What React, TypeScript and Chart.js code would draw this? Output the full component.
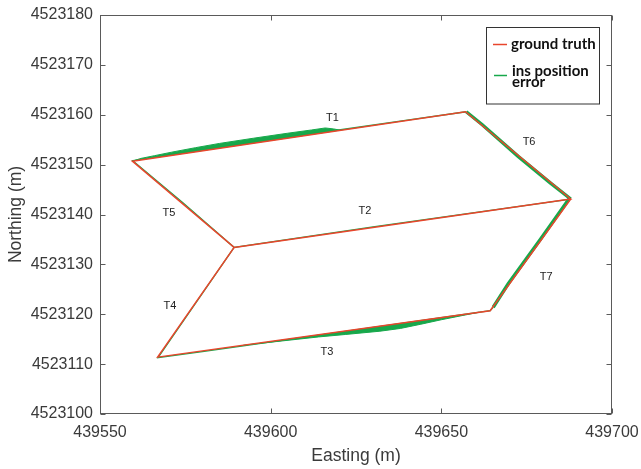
import React, { useEffect, useRef } from 'react';
import { Chart, registerables } from 'chart.js';

Chart.register(...registerables);

// ---- data ----
const xTicks = [439550, 439600, 439650, 439700];
const yTicks = [4523100, 4523110, 4523120, 4523130, 4523140, 4523150, 4523160, 4523170, 4523180];

// ground truth trajectory (vertices)
const truthEasting = [439687.9, 439664.3, 439566.9, 439589.3, 439559.5, 439657.1, 439687.9, 439589.3];
const truthNorthing = [4523143.1, 4523120.7, 4523111.4, 4523133.4, 4523150.7, 4523160.6, 4523143.1, 4523133.4];

// INS estimated trajectory
const insEasting = [
  439687.6, 439679.1, 439669.6, 439665.2, 439664.3, 439592.0, 439580.0, 439567.0,
  439589.3, 439574.2, 439559.6, 439620.5, 439640.0, 439657.3, 439662.0, 439672.5,
  439682.0, 439687.9, 439630.0, 439589.3,
];
const insNorthing = [
  4523143.3, 4523135.1, 4523126.1, 4523121.4, 4523120.7, 4523113.65, 4523112.5, 4523111.3,
  4523133.4, 4523142.4, 4523150.8, 4523156.99, 4523158.91, 4523160.6, 4523158.0, 4523151.65,
  4523146.3, 4523143.1, 4523137.5, 4523133.4,
];

// INS error band along T1 (upper edge) and its base on the ground truth
const t1BandEasting = [439559.5, 439562, 439566, 439571, 439578, 439585, 439595, 439605, 439612, 439616, 439618.5, 439620.5];
const t1BandNorthing = [4523150.7, 4523151.25, 4523151.8, 4523152.5, 4523153.4, 4523154.25, 4523155.3, 4523156.3, 4523156.95, 4523157.35, 4523157.15, 4523156.89];
const t1BaseEasting = [439559.5, 439620.5];
const t1BaseNorthing = [4523150.7, 4523156.89];

// INS error band along T3 (lower edge) and its base on the ground truth
const t3BandEasting = [439592, 439600, 439608, 439614, 439622, 439632, 439638, 439644, 439650, 439656, 439661];
const t3BandNorthing = [4523113.8, 4523114.4, 4523115.0, 4523115.45, 4523115.95, 4523116.6, 4523117.15, 4523118.0, 4523118.9, 4523119.72, 4523120.39];
const t3BaseEasting = [439592, 439661];
const t3BaseNorthing = [4523113.8, 4523120.39];

// segment labels
const segLabels = ['T1', 'T2', 'T3', 'T4', 'T5', 'T6', 'T7'];
const segLabelEasting = [439618.1, 439627.6, 439616.5, 439570.5, 439570.2, 439675.7, 439680.7];
const segLabelNorthing = [4523159.3, 4523140.7, 4523112.5, 4523121.7, 4523140.4, 4523154.6, 4523127.5];

const seriesNames = ['ground truth', 'ins position\nerror'];

const RED = '#e8452c';
const GREEN = '#17a84b';

const pts = (xs: number[], ys: number[]) => xs.map((x, i) => ({ x, y: ys[i] }));

const overlayPlugin = {
  id: 'overlay',
  afterDraw(chart: any) {
    const { ctx, chartArea: a, scales } = chart;
    const xs = scales.x;
    const ys = scales.y;
    ctx.save();
    // legend box
    const lx = 486.5, ly = 27.5, lw = 113, lh = 76.5;
    ctx.fillStyle = '#ffffff';
    ctx.fillRect(lx, ly, lw, lh);
    ctx.strokeStyle = '#333333';
    ctx.lineWidth = 1;
    ctx.strokeRect(lx, ly, lw, lh);
    ctx.lineWidth = 1.5;
    ctx.strokeStyle = RED;
    ctx.beginPath();
    ctx.moveTo(493, 44.5);
    ctx.lineTo(507, 44.5);
    ctx.stroke();
    ctx.strokeStyle = GREEN;
    ctx.beginPath();
    ctx.moveTo(494, 75.5);
    ctx.lineTo(507, 75.5);
    ctx.stroke();
    ctx.fillStyle = '#111111';
    ctx.font = 'bold 15px Lato';
    ctx.textAlign = 'left';
    ctx.textBaseline = 'middle';
    ctx.fillText(seriesNames[0], 511, 44);
    const lines = seriesNames[1].split('\n');
    lines.forEach((t, i) => ctx.fillText(t, 512, 71 + i * 11.5));

    // box and inward ticks
    ctx.strokeStyle = '#5a5a5a';
    ctx.lineWidth = 1;
    const L = Math.round(a.left) + 0.5;
    const R = Math.round(a.right) - 0.5;
    const T = Math.round(a.top) + 0.5;
    const B = Math.round(a.bottom) - 0.5;
    ctx.strokeRect(L, T, R - L, B - T);
    ctx.beginPath();
    xTicks.forEach((v) => {
      const px = Math.round(xs.getPixelForValue(v)) + 0.5;
      ctx.moveTo(px, B);
      ctx.lineTo(px, B - 5);
      ctx.moveTo(px, T);
      ctx.lineTo(px, T + 5);
    });
    yTicks.forEach((v) => {
      const py = Math.round(ys.getPixelForValue(v)) + 0.5;
      ctx.moveTo(L, py);
      ctx.lineTo(L + 5, py);
      ctx.moveTo(R, py);
      ctx.lineTo(R - 5, py);
    });
    ctx.stroke();

    // segment labels
    ctx.fillStyle = '#222222';
    ctx.font = '11px "Liberation Sans"';
    ctx.textAlign = 'center';
    ctx.textBaseline = 'middle';
    segLabels.forEach((t, i) => {
      ctx.fillText(t, xs.getPixelForValue(segLabelEasting[i]), ys.getPixelForValue(segLabelNorthing[i]));
    });
    ctx.restore();
  },
};

export default function App() {
  const ref = useRef<HTMLCanvasElement | null>(null);
  useEffect(() => {
    if (!ref.current) return;
    const thick = new Set([13, 14, 15, 16, 0, 1, 2]);
    const chart = new Chart(ref.current, {
      type: 'line',
      data: {
        datasets: [
          {
            label: seriesNames[0],
            data: pts(truthEasting, truthNorthing),
            borderColor: RED,
            borderWidth: 1.5,
            pointRadius: 0,
            fill: false,
          },
          {
            label: seriesNames[1],
            data: pts(insEasting, insNorthing),
            borderColor: GREEN,
            borderWidth: 1.3,
            pointRadius: 0,
            fill: false,
            segment: {
              borderWidth: (c: any) => (thick.has(c.p0DataIndex) ? 3.4 : 1.3),
            },
          },
          {
            label: 't1band',
            data: pts(t1BandEasting, t1BandNorthing),
            borderColor: GREEN,
            backgroundColor: GREEN,
            borderWidth: 1,
            pointRadius: 0,
            fill: 3,
          },
          {
            label: 't1base',
            data: pts(t1BaseEasting, t1BaseNorthing),
            borderWidth: 0,
            borderColor: 'rgba(0,0,0,0)',
            pointRadius: 0,
            fill: false,
          },
          {
            label: 't3band',
            data: pts(t3BandEasting, t3BandNorthing),
            borderColor: GREEN,
            backgroundColor: GREEN,
            borderWidth: 1,
            pointRadius: 0,
            fill: 5,
          },
          {
            label: 't3base',
            data: pts(t3BaseEasting, t3BaseNorthing),
            borderWidth: 0,
            borderColor: 'rgba(0,0,0,0)',
            pointRadius: 0,
            fill: false,
          },
        ],
      },
      options: {
        animation: false,
        responsive: false,
        devicePixelRatio: 1,
        events: [],
        layout: { padding: { top: 15, right: 29, left: 0, bottom: 0 } },
        elements: { line: { tension: 0 } },
        plugins: {
          legend: { display: false },
          tooltip: { enabled: false },
        },
        scales: {
          x: {
            type: 'linear',
            min: xTicks[0],
            max: xTicks[xTicks.length - 1],
            afterBuildTicks: (s: any) => {
              s.ticks = xTicks.map((v) => ({ value: v }));
            },
            afterFit: (s: any) => {
              s.height = 55;
              s.paddingLeft = 0;
              s.paddingRight = 0;
            },
            grid: { display: false, drawTicks: false },
            border: { display: false },
            ticks: {
              padding: 9,
              color: '#3a3a3a',
              font: { family: '"Liberation Sans"', size: 16 },
              maxRotation: 0,
              callback: (v: any) => String(v),
            },
            title: {
              display: true,
              text: 'Easting (m)',
              color: '#3a3a3a',
              font: { family: '"Liberation Sans"', size: 17.5 },
              padding: { top: 0, bottom: 2 },
            },
          },
          y: {
            type: 'linear',
            min: yTicks[0],
            max: yTicks[yTicks.length - 1],
            afterBuildTicks: (s: any) => {
              s.ticks = yTicks.map((v) => ({ value: v }));
            },
            afterFit: (s: any) => {
              s.width = 100;
              s.paddingTop = 0;
              s.paddingBottom = 0;
            },
            grid: { display: false, drawTicks: false },
            border: { display: false },
            ticks: {
              padding: 7,
              color: '#3a3a3a',
              font: { family: '"Liberation Sans"', size: 16 },
              callback: (v: any) => String(v),
            },
            title: {
              display: true,
              text: 'Northing (m)',
              color: '#3a3a3a',
              font: { family: '"Liberation Sans"', size: 17.5 },
              padding: { top: 6, bottom: 0 },
            },
          },
        },
      },
      plugins: [overlayPlugin],
    } as any);
    return () => chart.destroy();
  }, []);
  return (
    <div style={{ position: 'absolute', left: 0, top: 0, width: 641, height: 469 }}>
      <canvas ref={ref} width={641} height={469} style={{ display: 'block' }} />
    </div>
  );
}
